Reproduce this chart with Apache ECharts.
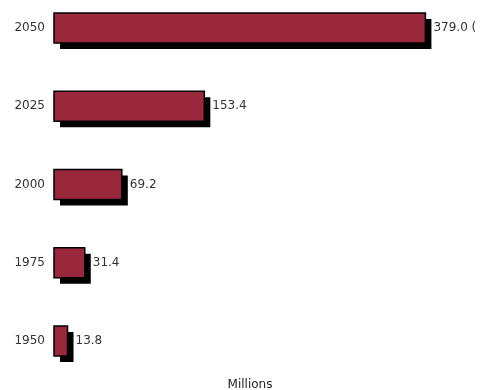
<!DOCTYPE html>
<html><head><meta charset="utf-8">
<script src="https://cdn.jsdelivr.net/npm/echarts@6/dist/echarts.min.js"></script>
<style>html,body{margin:0;padding:0;background:#fff}#c{width:484px;height:390px}</style>
</head><body><div id="c"></div>
<script>
const years = ['1950', '1975', '2000', '2025', '2050'];
const values = [13.8, 31.4, 69.2, 153.4, 379.0];
const valueLabels = ['13.8', '31.4', '69.2', '153.4', '379.0 ('];
const axisTitle = 'Millions';

const chart = echarts.init(document.getElementById('c'));
chart.setOption({
  animation: false,
  backgroundColor: '#ffffff',
  grid: { left: 54, width: 392, top: 28, height: 313, outerBoundsMode: 'none', containLabel: false },
  xAxis: {
    type: 'value', min: 0, max: 400,
    axisLine: { show: false }, axisTick: { show: false },
    axisLabel: { show: false }, splitLine: { show: false },
    name: axisTitle, nameLocation: 'middle', nameGap: 38,
    nameTextStyle: { fontFamily: 'DejaVu Sans', fontSize: 12, color: '#222' }
  },
  yAxis: {
    type: 'category', data: years, boundaryGap: false,
    axisLine: { show: false }, axisTick: { show: false },
    axisLabel: { margin: 9, fontFamily: 'DejaVu Sans', fontSize: 12, color: '#333' }
  },
  series: [{
    type: 'custom',
    data: values.map((v, i) => [v, i]),
    encode: { x: 0, y: 1 },
    clip: false,
    renderItem: function (params, api) {
      const v = api.value(0), c = api.value(1);
      const p0 = api.coord([0, c]);
      const p1 = api.coord([v, c]);
      const h = 30, off = 6;
      const w = p1[0] - p0[0];
      const x = p0[0], y = p0[1] - h / 2;
      return {
        type: 'group',
        children: [
          { type: 'rect', shape: { x: x + off, y: y + off, width: w, height: h }, style: { fill: '#000' } },
          { type: 'rect', shape: { x: x, y: y, width: w, height: h }, style: { fill: '#99283d', stroke: '#000', lineWidth: 1.5 } },
          { type: 'text', x: p1[0] + off + 2, y: p0[1],
            style: { text: valueLabels[params.dataIndex], fill: '#333', font: '12px "DejaVu Sans"', verticalAlign: 'middle', align: 'left' } }
        ]
      };
    }
  }]
});
</script></body></html>
